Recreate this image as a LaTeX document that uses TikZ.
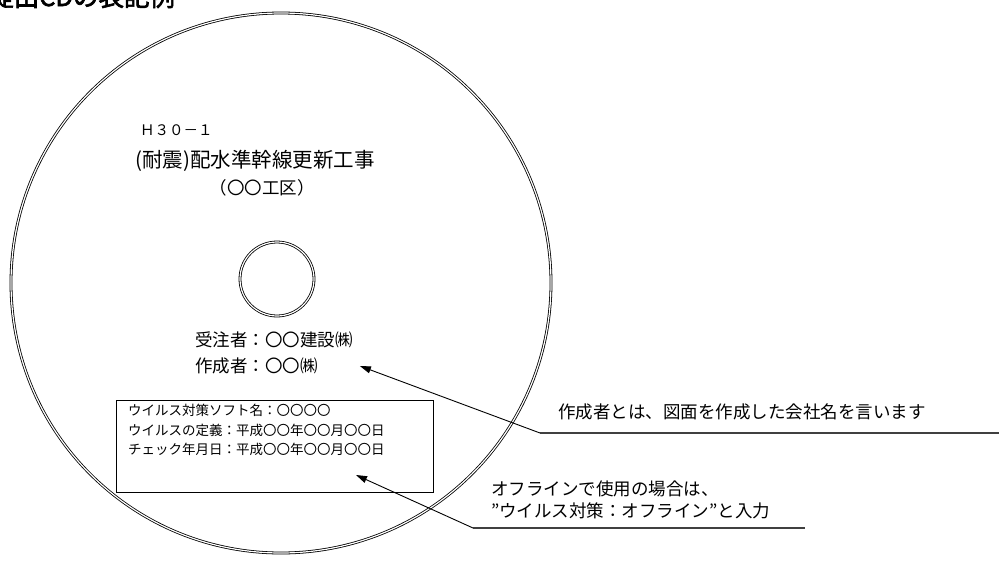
\documentclass[tikz,border=0pt]{standalone}
\usepackage{fontspec}
\setmainfont{Noto Sans CJK JP}
\newfontfamily\headfont{Noto Sans CJK JP}[FakeBold=2.5]
\usepackage{tikz}
\usetikzlibrary{arrows.meta,positioning}

\begin{document}
\begin{tikzpicture}[
  x=1pt,y=-1pt,
  rim/.style={circle,draw=black,line width=0.8pt,double=white,double distance=1.2pt,inner sep=0pt},
  lbl/.style={inner sep=0pt,font=\fontsize{17.5}{21}\selectfont},
  small/.style={inner sep=0pt,align=left,font=\fontsize{13.5}{19.5}\selectfont},
  infobox/.style={rectangle,draw=black,line width=1pt,minimum width=317pt,minimum height=92pt,inner sep=0pt},
  uline/.style={line width=1.3pt,color=black!75},
  arr/.style={-{Triangle[length=11pt,width=7pt]},line width=0.9pt}
]
  \useasboundingbox (0,0) rectangle (999,563);
  \node[anchor=base west,inner sep=0pt,font=\headfont\fontsize{25.5}{30}\selectfont] (title) at (-12,6) {提出CDの表記例};

  % disc
  \node[rim,minimum size=540pt] (disc) at (281,283) {};
  \node[rim,minimum size=74pt] (hole) at (277,279) {};

  \node[lbl,anchor=west,font=\fontsize{14.5}{17}\selectfont] (code) at (140,130) {Ｈ３０－１};
  \node[lbl,font=\fontsize{20.5}{24}\selectfont] (work) at (255,161) {(耐震)配水準幹線更新工事};
  \node[lbl] (area) at (262,188) {（〇〇工区）};
  \node[lbl,anchor=west] (client) at (195,340) {受注者：〇〇建設㈱};
  \node[lbl,anchor=west] (maker) at (195,366) {作成者：〇〇㈱};

  \node[infobox,anchor=north west] (info) at (116,400) {};
  \node[small,anchor=north west] (virus) at ([shift={(12,4)}]info.north west)
    {ウイルス対策ソフト名：〇〇〇〇\\ウイルスの定義：平成〇〇年〇〇月〇〇日\\チェック年月日：平成〇〇年〇〇月〇〇日};

  % notes
  \coordinate (n1) at (540,433);
  \coordinate (n1end) at (999,433);
  \node[lbl,anchor=south west] (note1) at ([shift={(18,-13)}]n1) {作成者とは、図面を作成した会社名を言います};
  \draw[uline] (n1) -- (n1end);
  \draw[arr] (n1) -- ([xshift=42pt]maker.east);

  \coordinate (n2) at (473,528);
  \coordinate (n2end) at (805,528);
  \node[lbl,anchor=south west,align=left,font=\fontsize{17.5}{21.5}\selectfont] (note2) at ([shift={(18,-9)}]n2)
    {オフラインで使用の場合は、\\”ウイルス対策：オフライン”と入力};
  \draw[uline] (n2) -- (n2end);
  \draw[arr] (n2) -- ([shift={(-78,-18)}]info.south east);
\end{tikzpicture}
\end{document}
